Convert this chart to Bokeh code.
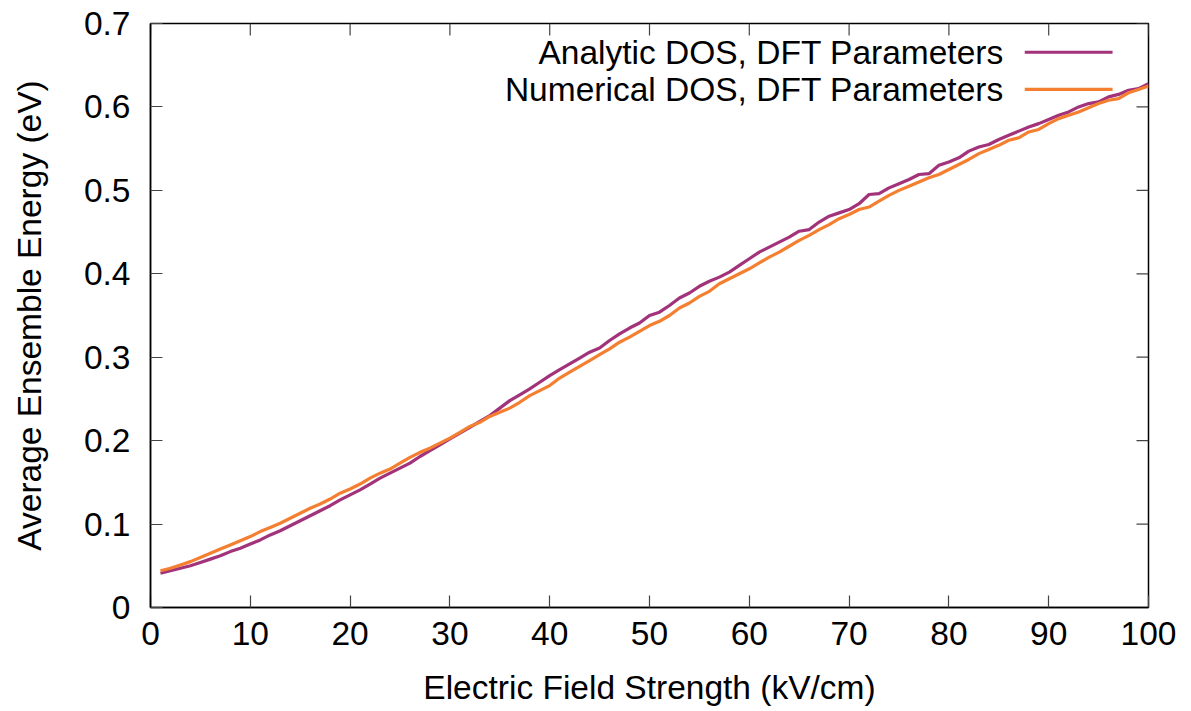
from bokeh.plotting import figure
from bokeh.models import (Range1d, LinearAxis, FixedTicker,
                          CustomJSTickFormatter, Label, BoxAnnotation)
from bokeh.embed import file_html
from bokeh.resources import INLINE

field = list(range(1, 101))

analytic = [
    0.041, 0.044, 0.047, 0.050, 0.054, 0.058, 0.062, 0.067, 0.071, 0.076,
    0.081, 0.087, 0.092, 0.098, 0.104, 0.110, 0.116, 0.122, 0.129, 0.135,
    0.141, 0.148, 0.155, 0.161, 0.167, 0.173, 0.181, 0.188, 0.195, 0.202,
    0.209, 0.216, 0.223, 0.230, 0.239, 0.248, 0.255, 0.262, 0.270, 0.278,
    0.285, 0.292, 0.299, 0.306, 0.311, 0.320, 0.328, 0.335, 0.341, 0.350,
    0.354, 0.362, 0.371, 0.377, 0.385, 0.391, 0.396, 0.402, 0.410, 0.418,
    0.426, 0.432, 0.438, 0.444, 0.451, 0.453, 0.462, 0.469, 0.473, 0.477,
    0.484, 0.495, 0.496, 0.503, 0.508, 0.513, 0.519, 0.520, 0.530, 0.534,
    0.539, 0.547, 0.552, 0.555, 0.561, 0.566, 0.571, 0.576, 0.580, 0.585,
    0.590, 0.594, 0.600, 0.604, 0.606, 0.612, 0.615, 0.620, 0.622, 0.628,
]

numerical = [
    0.044, 0.047, 0.051, 0.055, 0.060, 0.065, 0.070, 0.075, 0.080, 0.085,
    0.091, 0.096, 0.101, 0.107, 0.113, 0.119, 0.124, 0.130, 0.137, 0.142,
    0.148, 0.155, 0.161, 0.166, 0.173, 0.180, 0.186, 0.191, 0.197, 0.203,
    0.210, 0.217, 0.222, 0.229, 0.234, 0.239, 0.246, 0.254, 0.260, 0.266,
    0.275, 0.282, 0.289, 0.296, 0.303, 0.310, 0.318, 0.324, 0.331, 0.338,
    0.343, 0.350, 0.359, 0.365, 0.373, 0.379, 0.388, 0.394, 0.400, 0.406,
    0.413, 0.420, 0.426, 0.433, 0.440, 0.446, 0.453, 0.459, 0.466, 0.471,
    0.477, 0.480, 0.487, 0.494, 0.500, 0.505, 0.510, 0.515, 0.519, 0.525,
    0.531, 0.537, 0.544, 0.549, 0.554, 0.560, 0.563, 0.570, 0.573, 0.580,
    0.586, 0.590, 0.594, 0.599, 0.604, 0.608, 0.610, 0.617, 0.621, 0.625,
]

series_names = ["Analytic DOS, DFT Parameters", "Numerical DOS, DFT Parameters"]
series_colors = ["#A2327A", "#F47F30"]
x_label = "Electric Field Strength (kV/cm)"
y_label = "Average Ensemble Energy (eV)"
x_ticks = [0, 10, 20, 30, 40, 50, 60, 70, 80, 90, 100]
y_ticks = [0, 0.1, 0.2, 0.3, 0.4, 0.5, 0.6, 0.7]

X_MAX, Y_MAX = 100, 0.7
FONT = "Liberation Sans"
FS = "33.5px"
TICK_COLOR = "#444444"

p = figure(width=1191, height=711, output_backend="svg", toolbar_location=None,
           x_range=Range1d(0, X_MAX), y_range=Range1d(0, Y_MAX),
           x_axis_location=None, y_axis_location=None,
           min_border_left=150, min_border_right=43, min_border_top=23, min_border_bottom=104)
p.background_fill_color = "white"
p.border_fill_color = "white"
p.outline_line_color = "black"
p.outline_line_width = 1.5
p.grid.visible = False

yfmt = CustomJSTickFormatter(code="return tick == 0 ? '0' : tick.toFixed(1);")

def style_axis(ax):
    ax.axis_line_color = "black"
    ax.axis_line_width = 1.5
    ax.major_tick_in = 12
    ax.major_tick_out = 0
    ax.major_tick_line_color = TICK_COLOR
    ax.major_tick_line_width = 1.2
    ax.minor_tick_line_color = None
    ax.major_label_text_font = FONT
    ax.major_label_text_color = "black"
    ax.major_label_text_font_size = FS
    ax.axis_label_text_font = FONT
    ax.axis_label_text_font_style = "normal"
    ax.axis_label_text_color = "black"
    ax.axis_label_text_font_size = FS

xb = LinearAxis(ticker=FixedTicker(ticks=x_ticks), axis_label=x_label)
style_axis(xb)
xb.major_label_standoff = 14
xb.axis_label_standoff = 21
p.add_layout(xb, "below")

yl = LinearAxis(ticker=FixedTicker(ticks=y_ticks), formatter=yfmt, axis_label=y_label)
style_axis(yl)
yl.major_label_standoff = 20
yl.axis_label_standoff = 33
p.add_layout(yl, "left")

# mirrored inward ticks on the top and right borders (gnuplot style)
tick_len_x = X_MAX * 12 / 998.0
tick_len_y = Y_MAX * 12 / 584.0
p.segment(x0=x_ticks, y0=[Y_MAX] * len(x_ticks), x1=x_ticks,
          y1=[Y_MAX - tick_len_y] * len(x_ticks),
          line_color=TICK_COLOR, line_width=1.2)
p.segment(x0=[X_MAX] * len(y_ticks), y0=y_ticks, x1=[X_MAX - tick_len_x] * len(y_ticks),
          y1=y_ticks, line_color=TICK_COLOR, line_width=1.2)

p.line(field, analytic, line_color=series_colors[0], line_width=3.2)
p.line(field, numerical, line_color=series_colors[1], line_width=3.2)

# gnuplot-style key: text right-aligned, sample line to the right
key_text_x = 85.5
key_line_x0, key_line_x1 = 87.6, 96.4
key_rows = [0.6655, 0.6210]
for name, color, ky in zip(series_names, series_colors, key_rows):
    p.add_layout(Label(x=key_text_x, y=ky, text=name, text_align="right",
                       text_baseline="middle", text_font=FONT, text_font_size=FS,
                       text_color="black"))
    p.add_layout(BoxAnnotation(left=key_line_x0, right=key_line_x1,
                               bottom=ky - 0.0019, top=ky + 0.0019,
                               fill_color=color, fill_alpha=1.0, line_color=None,
                               editable=False))

open("out.html", "w").write(file_html(p, INLINE))
